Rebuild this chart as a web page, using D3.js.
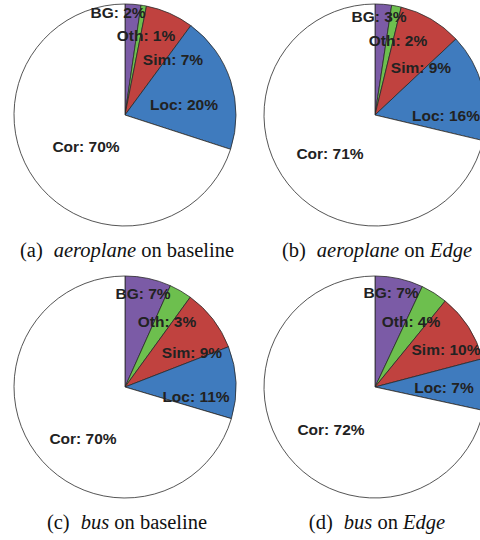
<!DOCTYPE html>
<html>
<head>
<meta charset="utf-8">
<script src="https://cdn.jsdelivr.net/npm/d3@7"></script>
<style>
  html, body { margin: 0; padding: 0; background: #fff; }
  svg { display: block; }
</style>
</head>
<body>
<svg id="chart" width="480" height="540"></svg>
<script>
// ---- data ----
const categories = ["BG", "Oth", "Sim", "Loc", "Cor"];
const panelIds = ["(a)", "(b)", "(c)", "(d)"];
const panelClasses = ["aeroplane", "aeroplane", "bus", "bus"];
const panelMethods = ["baseline", "Edge", "baseline", "Edge"];
// slice shares
const aeroBaseline = [2.3, 0.8, 7.0, 19.9, 70.0];
const aeroEdge     = [2.4, 1.4, 9.2, 15.7, 71.3];
const busBaseline  = [6.7, 3.3, 9.1, 10.5, 70.4];
const busEdge      = [7.0, 3.9, 10.0, 7.5, 71.6];
// printed percentages
const aeroBaselineLabels = [2, 1, 7, 20, 70];
const aeroEdgeLabels     = [3, 2, 9, 16, 71];
const busBaselineLabels  = [7, 3, 9, 11, 70];
const busEdgeLabels      = [7, 4, 10, 7, 72];

const seriesValues = [aeroBaseline, aeroEdge, busBaseline, busEdge];
const seriesLabels = [aeroBaselineLabels, aeroEdgeLabels, busBaselineLabels, busEdgeLabels];

// ---- layout / style ----
const colors = d3.scaleOrdinal()
  .domain(categories)
  .range(["#7b5ba6", "#6dbf4e", "#c0423f", "#3f7bbe", "#ffffff"]);
const radius = 111;
const colX = d3.scaleOrdinal().domain([0, 1]).range([125, 375]);
const rowY = d3.scaleOrdinal().domain([0, 1]).range([115, 387]);
const captionGap = 142;
// label anchor offsets (centre x, baseline y) relative to pie centre, px
const labelOffsets = [
  [[-7, -97], [21, -74], [48, -50], [59, -5], [-39, 37]],
  [[4, -93], [23, -69], [46, -42], [71, 6], [-45, 44]],
  [[18, -88], [42, -60], [67, -29], [71, 15], [-42, 57]],
  [[16, -89], [36, -60], [71, -32], [69, 6], [-44, 48]]
];

const svg = d3.select("#chart");
const pie = d3.pie().sort(null).value(d => d.value);
const arc = d3.arc().innerRadius(0).outerRadius(radius);

seriesValues.forEach((vals, i) => {
  const col = i % 2, row = Math.floor(i / 2);
  const cx = colX(col), cy = rowY(row);
  const data = categories.map((c, k) => ({ cat: c, value: vals[k], label: seriesLabels[i][k] }));
  const g = svg.append("g").attr("transform", `translate(${cx},${cy})`);

  g.selectAll("path.slice")
    .data(pie(data))
    .join("path")
    .attr("class", "slice")
    .attr("d", arc)
    .attr("fill", d => colors(d.data.cat))
    .attr("stroke", "#2a2a2a")
    .attr("stroke-width", 0.8)
    .attr("stroke-linejoin", "round");

  g.selectAll("text.lbl")
    .data(data)
    .join("text")
    .attr("class", "lbl")
    .attr("x", (d, k) => labelOffsets[i][k][0])
    .attr("y", (d, k) => labelOffsets[i][k][1])
    .attr("text-anchor", "middle")
    .attr("font-family", "'Liberation Sans', Arial, sans-serif")
    .attr("font-weight", "bold")
    .attr("font-size", 15.5)
    .attr("fill", "#222")
    .text(d => `${d.cat}: ${d.label}%`);

  const cap = svg.append("text")
    .attr("x", cx + 2)
    .attr("y", cy + captionGap)
    .attr("text-anchor", "middle")
    .attr("font-family", "'Liberation Serif', 'Times New Roman', serif")
    .attr("font-size", 20.5)
    .attr("fill", "#111");
  cap.append("tspan").text(panelIds[i]);
  cap.append("tspan").attr("dx", 11).attr("font-style", "italic").text(panelClasses[i]);
  cap.append("tspan").text(" on ");
  cap.append("tspan")
    .attr("font-style", panelMethods[i] === "Edge" ? "italic" : "normal")
    .text(panelMethods[i]);
});
</script>
</body>
</html>
